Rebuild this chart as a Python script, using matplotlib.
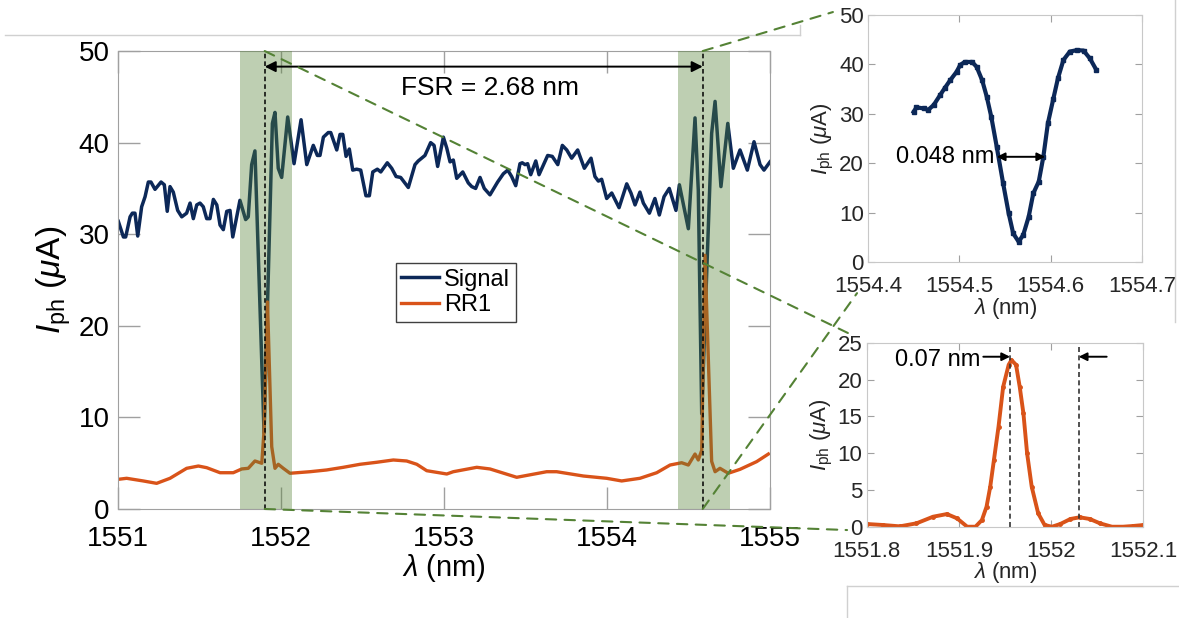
import numpy as np
import matplotlib
matplotlib.use("Agg")
from matplotlib import pyplot as plt
from matplotlib.patches import ConnectionPatch
from matplotlib.lines import Line2D

plt.rcParams['font.family'] = ['Liberation Sans', 'DejaVu Sans']
plt.rcParams['mathtext.fontset'] = 'custom'
plt.rcParams['mathtext.rm'] = 'Liberation Sans'
plt.rcParams['mathtext.it'] = 'Liberation Sans:italic'
plt.rcParams['mathtext.bf'] = 'Liberation Sans:bold'

# ---- main spectrum ----
sig_wl = [1551.002, 1551.033, 1551.047, 1551.074, 1551.088, 1551.104, 1551.121, 1551.145,
          1551.166, 1551.186, 1551.202, 1551.227, 1551.264, 1551.284, 1551.302, 1551.319,
          1551.339, 1551.366, 1551.391, 1551.421, 1551.442, 1551.462, 1551.483, 1551.503,
          1551.523, 1551.544, 1551.564, 1551.585, 1551.606, 1551.626, 1551.646, 1551.667,
          1551.687, 1551.704, 1551.748, 1551.783, 1551.799, 1551.820, 1551.840, 1551.896,
          1551.947, 1551.963, 1551.983, 1552.004, 1552.041, 1552.080, 1552.123, 1552.158,
          1552.198, 1552.223, 1552.239, 1552.260, 1552.290, 1552.305, 1552.342, 1552.362,
          1552.379, 1552.399, 1552.419, 1552.440, 1552.464, 1552.489, 1552.521, 1552.542,
          1552.563, 1552.591, 1552.612, 1552.652, 1552.679, 1552.706, 1552.734, 1552.781,
          1552.822, 1552.842, 1552.883, 1552.918, 1552.939, 1552.961, 1552.996, 1553.017,
          1553.037, 1553.057, 1553.078, 1553.115, 1553.149, 1553.170, 1553.194, 1553.221,
          1553.247, 1553.282, 1553.329, 1553.364, 1553.391, 1553.415, 1553.440, 1553.466,
          1553.480, 1553.497, 1553.513, 1553.532, 1553.563, 1553.583, 1553.636, 1553.664,
          1553.698, 1553.726, 1553.753, 1553.783, 1553.820, 1553.861, 1553.902, 1553.926,
          1553.947, 1553.967, 1553.998, 1554.029, 1554.074, 1554.121, 1554.147, 1554.172,
          1554.202, 1554.223, 1554.260, 1554.294, 1554.321, 1554.350, 1554.382, 1554.423,
          1554.444, 1554.499, 1554.540, 1554.560, 1554.581, 1554.642, 1554.663, 1554.699,
          1554.741, 1554.775, 1554.816, 1554.861, 1554.902, 1554.939, 1554.963, 1555.000]
sig_i = [31.4, 29.7, 29.7, 31.9, 32.3, 32.3, 29.8, 33.0,
         34.1, 35.7, 35.7, 34.9, 35.7, 35.4, 32.5, 35.2,
         34.6, 32.6, 31.9, 32.3, 33.4, 31.7, 33.2, 33.4,
         33.0, 31.7, 31.7, 33.8, 33.2, 31.0, 30.5, 32.5,
         32.6, 29.7, 33.7, 31.6, 31.9, 37.6, 39.1, 8.3,
         42.1, 43.3, 37.2, 36.2, 42.8, 37.7, 42.5, 37.6,
         39.7, 38.6, 38.6, 40.6, 41.1, 41.1, 39.2, 40.9,
         40.9, 38.5, 39.3, 37.0, 37.1, 37.0, 34.2, 34.2,
         36.8, 37.1, 36.8, 37.8, 37.2, 36.3, 36.2, 35.1,
         37.6, 38.0, 38.6, 40.0, 39.7, 37.4, 40.6, 39.4,
         37.9, 38.1, 36.1, 36.8, 35.6, 35.2, 35.0, 36.2,
         35.0, 34.3, 35.7, 36.6, 37.0, 36.3, 35.3, 37.7,
         37.8, 37.6, 37.7, 36.5, 38.0, 36.5, 38.6, 38.5,
         37.6, 39.7, 39.2, 38.3, 39.2, 37.2, 38.3, 36.3,
         35.8, 36.0, 33.9, 34.5, 32.9, 35.5, 34.5, 33.2,
         34.6, 33.4, 32.3, 33.9, 32.1, 34.1, 35.0, 32.6,
         35.4, 30.6, 42.7, 34.8, 10.4, 41.0, 44.5, 35.2,
         42.1, 37.2, 39.2, 37.0, 40.1, 37.6, 37.0, 37.9]

rr_wl = [1551.002, 1551.053, 1551.155, 1551.237, 1551.319, 1551.421, 1551.493, 1551.544,
         1551.626, 1551.707, 1551.759, 1551.799, 1551.840, 1551.882, 1551.896, 1551.917,
         1551.943, 1551.963, 1551.983, 1552.014, 1552.055, 1552.178, 1552.280, 1552.382,
         1552.485, 1552.587, 1552.689, 1552.771, 1552.833, 1552.894, 1553.017, 1553.057,
         1553.201, 1553.282, 1553.446, 1553.630, 1553.691, 1553.855, 1553.998, 1554.090,
         1554.202, 1554.305, 1554.387, 1554.458, 1554.499, 1554.540, 1554.560, 1554.581,
         1554.601, 1554.642, 1554.663, 1554.693, 1554.744, 1554.816, 1554.918, 1554.990]
rr_i = [3.24, 3.35, 3.06, 2.80, 3.35, 4.44, 4.69, 4.51,
        3.96, 3.96, 4.37, 4.44, 5.24, 4.99, 8.6, 22.6,
        6.8, 4.44, 4.88, 4.44, 3.90, 4.07, 4.26, 4.55,
        4.88, 5.10, 5.35, 5.24, 4.88, 4.18, 3.82, 4.07,
        4.55, 4.37, 3.46, 4.07, 4.07, 3.60, 3.35, 3.06,
        3.35, 3.96, 4.80, 5.05, 4.80, 6.0, 5.35, 6.4,
        27.7, 5.2, 4.07, 4.44, 3.90, 4.33, 5.17, 6.0]

bands = [(1551.747, 1552.066), (1554.434, 1554.753)]
res_lines = [1551.90, 1554.587]
fsr_label = "FSR = 2.68 nm"

# ---- top inset: signal dip ----
dip_wl = [1554.450, 1554.453, 1554.461, 1554.466, 1554.472, 1554.479, 1554.484, 1554.490,
          1554.497, 1554.501, 1554.506, 1554.514, 1554.519, 1554.525, 1554.530, 1554.535,
          1554.541, 1554.548, 1554.554, 1554.559, 1554.565, 1554.570, 1554.576, 1554.581,
          1554.587, 1554.592, 1554.597, 1554.603, 1554.608, 1554.614, 1554.621, 1554.629,
          1554.636, 1554.643, 1554.650]
dip_i = [30.4, 31.3, 31.1, 30.8, 31.8, 33.8, 35.2, 36.8,
         38.5, 39.9, 40.5, 40.5, 39.5, 36.8, 33.5, 29.4,
         23.3, 15.9, 9.9, 5.8, 4.1, 5.5, 9.2, 13.9,
         16.3, 21.3, 28.1, 33.1, 37.2, 40.9, 42.6, 42.9,
         42.8, 41.2, 38.9]
fwhm_dip = (1554.541, 1554.594, 21.3)

# ---- bottom inset: RR1 peak ----
pk_wl = [1551.800, 1551.818, 1551.836, 1551.854, 1551.872, 1551.887, 1551.898, 1551.909,
         1551.918, 1551.925, 1551.930, 1551.934, 1551.938, 1551.943, 1551.948, 1551.954,
         1551.957, 1551.962, 1551.966, 1551.970, 1551.974, 1551.979, 1551.986, 1551.993,
         1552.001, 1552.010, 1552.021, 1552.031, 1552.042, 1552.053, 1552.066, 1552.078,
         1552.089, 1552.100]
pk_i = [0.37, 0.23, 0.05, 0.46, 1.36, 1.72, 1.14, 0.0,
        0.0, 0.91, 2.72, 5.43, 9.06, 13.6, 19.0, 22.0,
        22.65, 22.0, 19.0, 15.4, 9.97, 5.43, 1.82, 0.23,
        0.0, 0.37, 1.05, 1.28, 1.05, 0.46, 0.0, 0.0,
        0.1, 0.23]
pk_lines = [1551.9555, 1552.030]

navy = '#0c2858'
orange = '#D95319'
green = '#548235'
frame = '#a0a0a0'

fig = plt.figure(figsize=(11.79, 6.18), dpi=100)

ax = fig.add_axes([0.1001, 0.1764, 0.553, 0.741])
ax.plot(sig_wl, sig_i, color=navy, lw=2.5, label='Signal', zorder=2)
ax.plot(rr_wl, rr_i, color=orange, lw=2.4, label='RR1', zorder=2)
for a, b in bands:
    ax.axvspan(a, b, color=green, alpha=0.38, lw=0, zorder=3)
for x in res_lines:
    ax.plot([x, x], [0, 50], ls=(0, (3, 2)), color='k', lw=1.1, zorder=4)
ax.annotate('', xy=(res_lines[0], 48.3), xytext=(res_lines[1], 48.3),
            arrowprops=dict(arrowstyle='<|-|>', color='k', lw=1.4,
                            shrinkA=0, shrinkB=0, mutation_scale=16), zorder=5)
ax.text(1553.28, 46.0, fsr_label, ha='center', va='center', fontsize=19)
ax.set_xlim(1551, 1555)
ax.set_ylim(0, 50)
ax.set_xticks([1551, 1552, 1553, 1554, 1555])
ax.set_yticks([0, 10, 20, 30, 40, 50])
ax.tick_params(direction='in', length=16, width=1, color=frame, labelsize=20,
               top=True, right=True)
ax.tick_params(axis='x', pad=12)
ax.tick_params(axis='y', pad=6)
for s in ax.spines.values():
    s.set_color(frame)
ax.set_xlabel(r'$\lambda$ (nm)', fontsize=21, labelpad=0)
ax.set_ylabel(r'$I_{\mathrm{ph}}$ ($\mu$A)', fontsize=24, labelpad=4)
leg = ax.legend(loc='center', bbox_to_anchor=(0.518, 0.473), fontsize=17, frameon=True,
                fancybox=False, edgecolor='#404040', framealpha=1, handlelength=1.6,
                handletextpad=0.2, borderpad=0.25, labelspacing=0.15, borderaxespad=0)
leg.get_frame().set_linewidth(1.0)
leg.set_zorder(6)

# top inset
ax1 = fig.add_axes([0.7362, 0.576, 0.2324, 0.3997])
ax1.plot(dip_wl, dip_i, color=navy, lw=3, marker='s', ms=2.5)
ax1.annotate('', xy=(fwhm_dip[0], fwhm_dip[2]), xytext=(fwhm_dip[1], fwhm_dip[2]),
             arrowprops=dict(arrowstyle='<|-|>', color='k', lw=1.4,
                             shrinkA=0, shrinkB=0, mutation_scale=12))
ax1.text(fwhm_dip[0] - 0.003, fwhm_dip[2], '0.048 nm', ha='right', va='center', fontsize=17)
ax1.set_xlim(1554.4, 1554.7)
ax1.set_ylim(0, 50)
ax1.set_xticks([1554.4, 1554.5, 1554.6, 1554.7])
ax1.set_xticklabels(['1554.4', '1554.5', '1554.6', '1554.7'])
ax1.set_yticks([0, 10, 20, 30, 40, 50])
ax1.tick_params(direction='in', length=5, color=frame, labelsize=16, top=True, right=True,
                labelcolor='#262626', pad=3)
ax1.tick_params(axis='x', pad=10)
for s in ax1.spines.values():
    s.set_color('#c8c8c8')
ax1.set_xlabel(r'$\lambda$ (nm)', fontsize=16, labelpad=-1, color='#262626')
ax1.set_ylabel(r'$I_{\mathrm{ph}}$ ($\mu$A)', fontsize=16, labelpad=2, color='#262626')

# bottom inset
ax2 = fig.add_axes([0.7351, 0.1477, 0.2346, 0.2977])
ax2.plot(pk_wl, pk_i, color=orange, lw=2.8, marker='o', ms=2.5)
for x in pk_lines:
    ax2.plot([x, x], [0, 25], ls=(0, (3, 2)), color='#333333', lw=1.2)
ax2.annotate('', xy=(pk_lines[0], 23.1), xytext=(1551.9265, 23.1),
             arrowprops=dict(arrowstyle='-|>', color='k', lw=1.4,
                             shrinkA=0, shrinkB=0, mutation_scale=12))
ax2.annotate('', xy=(pk_lines[1], 23.1), xytext=(1552.0603, 23.1),
             arrowprops=dict(arrowstyle='-|>', color='k', lw=1.4,
                             shrinkA=0, shrinkB=0, mutation_scale=12))
ax2.text(1551.923, 22.6, '0.07 nm', ha='right', va='center', fontsize=17)
ax2.set_xlim(1551.8, 1552.1)
ax2.set_ylim(0, 25)
ax2.set_xticks([1551.8, 1551.9, 1552.0, 1552.1])
ax2.set_xticklabels(['1551.8', '1551.9', '1552', '1552.1'])
ax2.set_yticks([0, 5, 10, 15, 20, 25])
ax2.tick_params(direction='in', length=5, color=frame, labelsize=16, top=True, right=True,
                labelcolor='#262626', pad=3)
ax2.tick_params(axis='x', pad=10)
for s in ax2.spines.values():
    s.set_color('#c8c8c8')
ax2.set_xlabel(r'$\lambda$ (nm)', fontsize=16, labelpad=-1, color='#262626')
ax2.set_ylabel(r'$I_{\mathrm{ph}}$ ($\mu$A)', fontsize=16, labelpad=2, color='#262626')

# zoom guide lines
guides = [((res_lines[0], 50), ax2, (-0.068, 1.053)),
          ((res_lines[0], 0), ax2, (-0.071, -0.018)),
          ((res_lines[1], 50), ax1, (-0.128, 1.012)),
          ((res_lines[1], 0), ax1, (-0.04, -0.126))]
for xyA, axB, xyB in guides:
    con = ConnectionPatch(xyA=xyA, coordsA=ax.transData, xyB=xyB, coordsB=axB.transAxes,
                          color=green, ls=(0, (5, 4)), lw=1.5, zorder=7)
    fig.add_artist(con)

# leftover frame edges from the original screenshot
edge = '#d0d0d0'
fig.add_artist(Line2D([5 / 1179, 800 / 1179], [1 - 35 / 618, 1 - 35 / 618],
                      transform=fig.transFigure, color=edge, lw=1))
fig.add_artist(Line2D([800 / 1179, 800 / 1179], [1 - 25 / 618, 1 - 35 / 618],
                      transform=fig.transFigure, color=edge, lw=1))
fig.add_artist(Line2D([1175 / 1179, 1175 / 1179], [1, 1 - 322 / 618],
                      transform=fig.transFigure, color=edge, lw=1))
fig.add_artist(Line2D([847 / 1179, 1], [1 - 586 / 618, 1 - 586 / 618],
                      transform=fig.transFigure, color=edge, lw=1))
fig.add_artist(Line2D([847 / 1179, 847 / 1179], [1 - 586 / 618, 0],
                      transform=fig.transFigure, color=edge, lw=1))

fig.savefig('out.png', dpi=100)
